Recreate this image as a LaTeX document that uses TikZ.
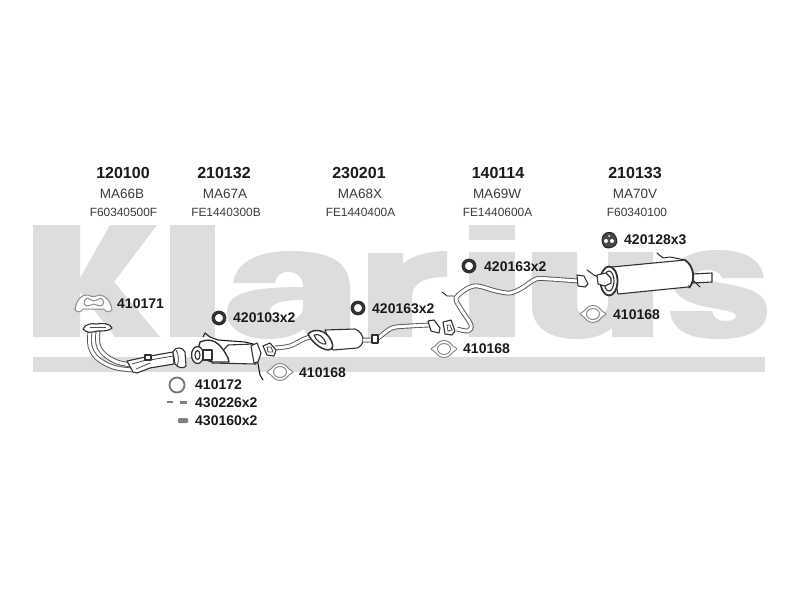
\documentclass[tikz,border=0pt]{standalone}
\usepackage{fontspec}
\setmainfont{Liberation Sans}
\begin{document}
\begin{tikzpicture}[x=1pt,y=-1pt,
  logo/.style={fill=logogrey,draw=none},
  code/.style={font=\fontsize{16}{17}\selectfont\bfseries,text=ink,inner sep=0pt},
  model/.style={font=\fontsize{13.5}{14}\selectfont,text=ink!85,inner sep=0pt},
  oem/.style={font=\fontsize{11.9}{13}\selectfont,text=ink!85,inner sep=0pt},
  part/.style={font=\fontsize{14}{15}\selectfont\bfseries,text=ink,inner sep=0pt,anchor=west},
  tube/.style={draw=ink!75,double=white,line width=.9pt,double distance=3pt},
  shell/.style={draw=ink!90,fill=white,line width=1.1pt,line join=round},
  thin/.style={draw=ink!80,line width=.8pt,line join=round},
  wire/.style={draw=ink,line width=1.1pt,line cap=round,line join=round},
  ring/.style={draw=ink!90,line width=3.4pt,fill=white},
  seal/.style={draw=ink!50,fill=white,line width=1pt,line join=round}]
\definecolor{logogrey}{HTML}{DDDDDD}
\definecolor{ink}{HTML}{1A1A1A}
\useasboundingbox (0,0) rectangle (800,600);
\fill[white] (0,0) rectangle (800,600);
% logo
\fill[logo] (33,225)--(80,225)--(80,278)--(110,225)--(157,225)--(114,282)--(160,337)--(115,337)--(80,292)--(80,337)--(33,337)--cycle;
\fill[logo] (170,225) rectangle (215,337);
\fill[logo,even odd rule] (233,283) .. controls (236,262) and (258,251) .. (290,251) .. controls (330,251) and (350,262) .. (350,288) -- (350,322) .. controls (350,330) and (352,334) .. (354,337) -- (308,337) -- (304,329) .. controls (296,335) and (284,339) .. (270,339) .. controls (245,339) and (227,330) .. (227,312) .. controls (227,293) and (250,287) .. (303,287) .. controls (303,276) and (296,272) .. (288,272) .. controls (280,272) and (276,277) .. (275,283) -- cycle
(303,300) .. controls (280,300) and (270,304) .. (270,311) .. controls (270,318) and (276,321) .. (284,321) .. controls (294,321) and (303,316) .. (303,308) -- cycle;
\fill[logo] (368,253)--(403,253)--(403,264) .. controls (412,255) and (430,251) .. (447,251)--(447,277) .. controls (425,277) and (412,282) .. (412,298)--(412,337)--(368,337)--cycle;
\fill[logo] (469,225) rectangle (515,240);
\fill[logo] (469,252) rectangle (515,337);
\fill[logo] (532,252)--(577,252)--(577,305) .. controls (577,314) and (584,318) .. (592,318) .. controls (602,318) and (608,312) .. (608,303)--(608,252)--(653,252)--(653,337)--(612,337)--(612,328) .. controls (604,335) and (592,339) .. (578,339) .. controls (552,339) and (532,330) .. (532,305)--cycle;
\fill[logo] (764,278)--(722,278) .. controls (720,272) and (714,270) .. (707,270) .. controls (700,270) and (696,272) .. (696,275) .. controls (696,279) and (704,280) .. (722,283) .. controls (752,288) and (767,294) .. (767,311) .. controls (767,331) and (746,339) .. (718,339) .. controls (690,339) and (672,331) .. (670,311)--(712,311) .. controls (713,318) and (718,321) .. (725,321) .. controls (732,321) and (736,319) .. (736,316) .. controls (736,312) and (728,311) .. (712,308) .. controls (684,303) and (672,295) .. (672,279) .. controls (672,260) and (690,250) .. (717,250) .. controls (745,250) and (761,259) .. (764,278)--cycle;
\fill[logo] (33,357) rectangle (765,372);
% headers
\node[code] (c1) at (123,173) {120100};
\node[code] (c2) at (224,173) {210132};
\node[code] (c3) at (359,173) {230201};
\node[code] (c4) at (498,173) {140114};
\node[code] (c5) at (635,173) {210133};
\node[model] (m1) at (122,194) {MA66B};
\node[model] (m2) at (225,194) {MA67A};
\node[model] (m3) at (360,194) {MA68X};
\node[model] (m4) at (497,194) {MA69W};
\node[model] (m5) at (635,194) {MA70V};
\node[oem] (o1) at (123.5,212) {F60340500F};
\node[oem] (o2) at (226,212) {FE1440300B};
\node[oem] (o3) at (360.5,212) {FE1440400A};
\node[oem] (o4) at (497.5,212) {FE1440600A};
\node[oem] (o5) at (637,212) {F60340100};
% labels
\node[part] (l1) at (117,304) {410171};
\node[part] (l2) at (233,318) {420103x2};
\node[part] (l3) at (372,309) {420163x2};
\node[part] (l4) at (484,267) {420163x2};
\node[part] (l5) at (624,240) {420128x3};
\node[part] (l6) at (613,315) {410168};
\node[part] (l7) at (463,349) {410168};
\node[part] (l8) at (299,373) {410168};
\node[part] (l9) at (195,385) {410172};
\node[part] (l10) at (195,403) {430226x2};
\node[part] (l11) at (195,421) {430160x2};
% rings
\draw[ring] (219,318) circle (5.7);
\draw[ring] (358,308) circle (5.7);
\draw[ring] (469,266) circle (5.7);
\draw[draw=ink!60,line width=1.8pt,fill=white] (177,385) circle (7.5);
% gasket 410171
\draw[seal] (75,310) .. controls (76,300) and (82,294) .. (88,295) .. controls (92,297) and (95,297) .. (99,295) .. controls (106,295) and (111,302) .. (112,310) .. controls (108,313) and (106,312) .. (104,309) -- (83,309) .. controls (81,312) and (78,313) .. (75,310) -- cycle;
\draw[seal] (87,298) .. controls (90,299) and (92,301) .. (94,301) .. controls (96,301) and (98,299) .. (101,298) .. controls (105,301) and (104,306) .. (100,306) .. controls (97,306) and (96,304) .. (94,304) .. controls (92,304) and (90,306) .. (87,306) .. controls (83,305) and (83,301) .. (87,298) -- cycle;
% gaskets 410168
\foreach \n/\cx/\cy in {g1/280/372,g2/444/349,g3/593/314}{
  \coordinate (\n) at (\cx,\cy);
  \begin{scope}[shift={(\n)}]
  \draw[seal] plot[smooth cycle,tension=.6] coordinates {(-13,0)(-9,-3)(-5,-7)(0,-8.5)(5,-7)(9,-3)(13,0)(9,3)(5,7)(0,8.5)(-5,7)(-9,3)};
  \draw[seal] (0,0) ellipse (6.5 and 5.5);
  \end{scope}
}
% front pipe
\draw[tube] plot[smooth,tension=.6] coordinates {(90,331)(90,346)(97,358)(113,367)(132,370)};
\draw[tube] plot[smooth,tension=.6] coordinates {(98,331)(98,344)(104,354)(117,362)(132,365)};
\draw[shell] (83,329) .. controls (85,324) and (92,323) .. (96,324) .. controls (102,323) and (110,323) .. (112,328) .. controls (109,331) and (104,331) .. (98,331) .. controls (92,332) and (87,334) .. (83,329) -- cycle;
\draw[thin] (90,327)--(106,327);
\draw[shell] (127,361)--(150,356)--(173,352)--(174,364)--(150,368)--(137,373)--(133,372)--cycle;
\draw[thin] (132,364)--(146,360) (136,369)--(150,363) (150,360)--(173,356);
\draw[shell] (145,355) rectangle (151,360);
\draw[shell] (173,352) .. controls (175,346) and (183,347) .. (185,352) -- (186,366) .. controls (184,369) and (178,368) .. (175,364) -- cycle;
\draw[thin] (176,350) .. controls (179,354) and (179,362) .. (177,366);
% catalyst
\draw[shell] (228,345) -- (253,344) -- (256,364) -- (212,363) -- cycle;
\draw[shell,line width=1.4pt] (200,342) .. controls (212,337) and (220,342) .. (228,358) -- (229,362) -- (212,362) .. controls (204,360) and (196,352) .. (200,342) -- cycle;
\draw[shell,line width=1.3pt] (197.5,355) ellipse (6 and 8.5);
\draw[shell] (197.5,355) ellipse (2.5 and 4.5);
\draw[shell] (203,350) rectangle (212,360);
\draw[wire] (203,337) -- (205,333) -- (210,337) -- (218,340) -- (245,342) -- (253,344) -- (257,358) -- (260,375) -- (263,380);
\draw[shell] (251,346) -- (257,343) -- (261,353) -- (258,362) -- (254,363) -- cycle;
% pipe and flange after catalyst
\draw[tube] plot[smooth,tension=.5] coordinates {(275,348)(290,346)(304,339)(318,335)};
\draw[shell] (263,346) -- (270,343) -- (276,350) -- (274,356) -- (267,355) -- cycle;
\draw[thin] (267,347) -- (271,347) -- (273,352) -- (268,352) -- cycle;
% middle muffler
\draw[shell] (325,330) -- (355,329) .. controls (360,331) and (363,335) .. (363,340) .. controls (363,344) and (360,347) .. (357,348) -- (333,350) -- cycle;
\draw[shell,line width=1.5pt] (308,334) .. controls (314,328) and (324,330) .. (329,337) .. controls (334,344) and (334,350) .. (328,350) .. controls (320,349) and (312,342) .. (308,334) -- cycle;
\draw[shell] (314,335) .. controls (319,333) and (324,337) .. (326,344) .. controls (322,345) and (316,341) .. (314,335) -- cycle;
\draw[tube] plot[smooth,tension=.5] coordinates {(363,340)(376,339)(392,328)(410,326)(430,325)};
\draw[shell] (372,335) rectangle (378,343);
\draw[shell] (428,321) -- (434,320) -- (440,328) -- (439,333) -- (431,331) -- cycle;
% flange before long pipe
\draw[shell] (443,322) -- (451,320) -- (455,331) -- (452,335) -- (445,334) -- cycle;
\draw[thin] (447,325) -- (450,325) -- (452,330) -- (448,331) -- cycle;
% long pipe
\draw[tube] plot[smooth,tension=.5] coordinates {(457,329)(468,331)(471,325)(461,309)(456,298)(468,288)(478,286)(496,291)(510,293)(522,288)(536,279)(550,279)(578,281)};
\draw[wire,line width=.8pt] (442,292) -- (447,296) -- (454,296);
\draw[shell] (577,275) -- (584,276) -- (588,284) -- (585,287) -- (578,286) -- cycle;
% rear muffler
\draw[wire,line width=.9pt] (587,270) -- (594,275) -- (598,277);
\draw[wire,line width=.9pt] (657,253) -- (663,258) -- (670,257) -- (685,260);
\draw[shell] (693,274) -- (712,273) -- (712,282) -- (693,283) -- cycle;
\draw[shell] (612,267) -- (685,260) .. controls (692,266) and (694,280) .. (688,287) -- (618,294) -- cycle;
\draw[shell,line width=1.8pt] (685,260) .. controls (694,266) and (696,280) .. (689,288);
\draw[shell,line width=1.8pt] (609,281) ellipse (8.5 and 14.5);
\draw[shell] (609,281) ellipse (5 and 10);
\draw[shell] (597,275) -- (606,273) -- (611,278) -- (611,283) -- (605,286) -- (598,284) -- cycle;
\draw[wire,line width=.9pt] (694,281) -- (700,287);
% rubber mount 420128
\draw[draw=ink,fill=ink!80,line width=.8pt] (609,232.5) .. controls (616,232) and (617,240) .. (617,242) .. controls (616,247) and (610,248) .. (608,248) .. controls (604,248) and (602,244) .. (602,240) .. controls (602,236) and (605,232) .. (609,232.5) -- cycle;
\fill[white] (606,241) circle (2);
\fill[white] (612,241) circle (2);
\fill[white] (609,236) circle (1);
% small parts
\fill[ink!55] (167,401) rectangle (173,403);
\fill[ink!55] (180,400.5) rectangle (187,403.5);
\fill[ink!55,rounded corners=1pt] (178,418) rectangle (188,423);
\end{tikzpicture}
\end{document}
